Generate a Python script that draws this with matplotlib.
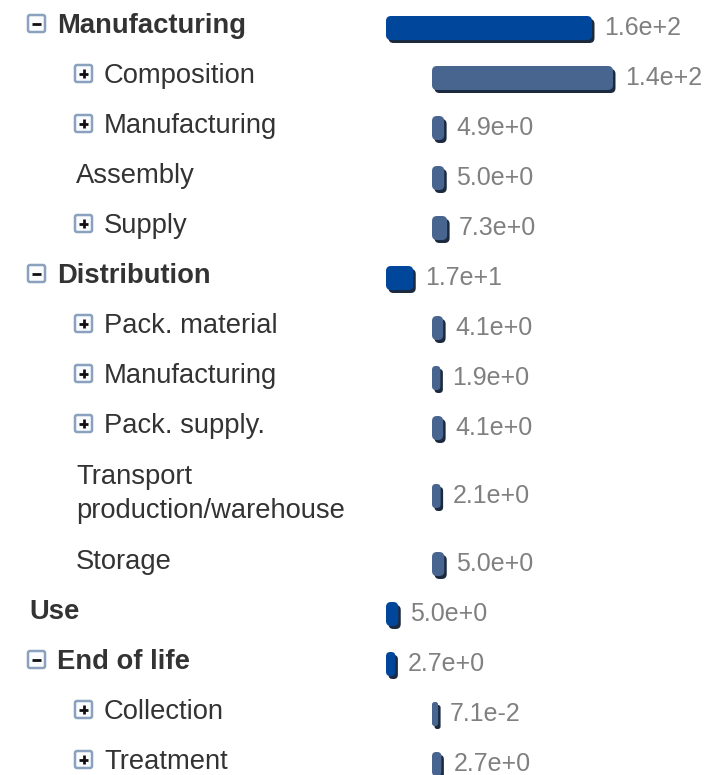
import matplotlib
matplotlib.use("Agg")
import matplotlib.pyplot as plt
from matplotlib.patches import FancyBboxPatch

# tree rows: label, value, depth, toggle box
labels = ["Manufacturing", "Composition", "Manufacturing", "Assembly", "Supply",
          "Distribution", "Pack. material", "Manufacturing", "Pack. supply.",
          "Transport\nproduction/warehouse", "Storage",
          "Use", "End of life", "Collection", "Treatment"]
values = [1.6e2, 1.4e2, 4.9, 5.0, 7.3,
          1.7e1, 4.1, 1.9, 4.1, 2.1, 5.0,
          5.0, 2.7, 7.1e-2, 2.7]
levels = [0, 1, 1, 1, 1, 0, 1, 1, 1, 1, 1, 0, 0, 1, 1]
toggles = ["-", "+", "+", None, "+", "-", "+", "+", "+", None, None, None, "-", "+", "+"]

plt.rcParams["font.family"] = ["Liberation Sans", "DejaVu Sans"]

LABEL_COLOR = "#333333"
VALUE_COLOR = "#808080"
BAR_COLORS = {0: "#00479b", 1: "#47658f"}
SHADOW = "#1c2a40"
BAR_X = {0: 386, 1: 432}
BOX_X = {0: 28, 1: 75}
ROW_H = 50
LINE_H = 34


def fmt(v):
    m, e = "{:.1e}".format(v).split("e")
    return "{}e{}{}".format(m, e[0], int(e[1:]))


def bar_width(v):
    return 6 + 1.25 * v


fig = plt.figure(figsize=(7.1, 7.75), dpi=100)
ax = fig.add_axes([0, 0, 1, 1])
ax.set_xlim(0, 710)
ax.set_ylim(775, 0)
ax.axis("off")

top = 3
for label, v, lvl, tog in zip(labels, values, levels, toggles):
    lines = label.split("\n")
    h = ROW_H + (len(lines) - 1) * 36
    cy = top + h / 2
    top += h

    # toggle box
    tx = BOX_X[lvl]
    if tog:
        bs = 17
        bx, by = tx, cy - 4.5 - bs / 2
        ax.add_patch(FancyBboxPatch((bx, by), bs, bs,
                                    boxstyle="round,pad=0,rounding_size=2",
                                    facecolor="#fbfcfe", edgecolor="#8ba2bf", lw=1.8))
        ax.plot([bx + 4, bx + bs - 4], [by + bs / 2, by + bs / 2],
                color="#111111", lw=2.0, solid_capstyle="butt")
        if tog == "+":
            ax.plot([bx + bs / 2, bx + bs / 2], [by + 4, by + bs - 4],
                    color="#111111", lw=2.0, solid_capstyle="butt")
        tx += 29
    else:
        tx += 1
    weight = "bold" if lvl == 0 else "normal"
    base = cy + 5 - (len(lines) - 1) * LINE_H / 2
    for i, ln in enumerate(lines):
        ax.text(tx, base + i * LINE_H, ln, fontsize=19.7, fontweight=weight,
                color=LABEL_COLOR, va="baseline", ha="left")

    # bar with drop shadow
    x0 = BAR_X[lvl]
    w = bar_width(v)
    bh = 24
    r = min(5, w / 2 - 0.5)
    ax.add_patch(FancyBboxPatch((x0 + 2.5, cy - bh / 2 + 3), w, bh,
                                boxstyle="round,pad=0,rounding_size={}".format(r),
                                facecolor=SHADOW, edgecolor="none"))
    ax.add_patch(FancyBboxPatch((x0, cy - bh / 2), w, bh,
                                boxstyle="round,pad=0,rounding_size={}".format(r),
                                facecolor=BAR_COLORS[lvl], edgecolor="none"))
    ax.text(x0 + w + 12, cy + 7, fmt(v), fontsize=18, color=VALUE_COLOR,
            va="baseline", ha="left")

fig.savefig("out.png", dpi=100)
